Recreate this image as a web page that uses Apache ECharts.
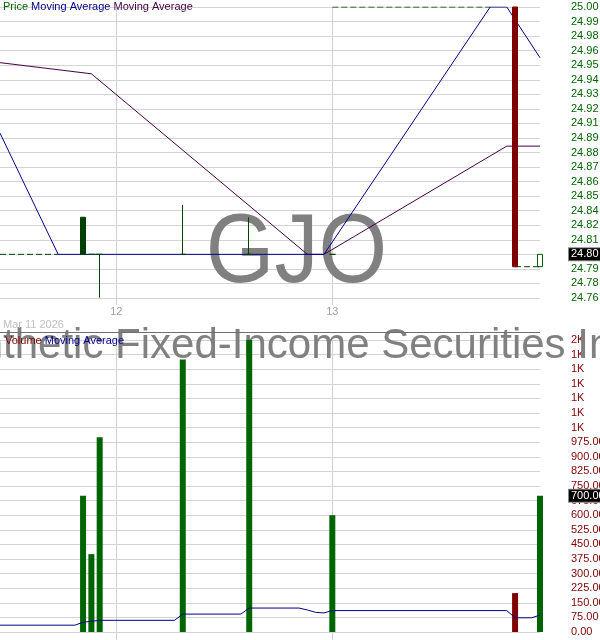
<!DOCTYPE html>
<html>
<head>
<meta charset="utf-8">
<script src="https://cdn.jsdelivr.net/npm/echarts@6/dist/echarts.min.js"></script>
<style>
html,body{margin:0;padding:0;background:#fff;}
#chart{width:600px;height:640px;}
</style>
</head>
<body>
<div id="chart"></div>
<script>
// ---- data ----
const days = ['11', '12', '13'];
const sessionTimes = ['09:30','09:45','10:00','10:15','10:30','10:45','11:00','11:15','11:30','11:45','12:00','12:15','12:30','12:45','13:00','13:15','13:30','13:45','14:00','14:15','14:30','14:45','15:00','15:15','15:30','15:45'];
const firstSlot = '11 12:30';
const dateLabel = 'Mar 11 2026';

// trades (15-minute bars)
const tradeTimes = ['11 15:00','11 15:15','11 15:30','12 11:30','12 13:30','13 09:30','13 15:00','13 15:45'];
const opens  = [24.80, 24.80, 24.80, 24.80, 24.80, 24.80, 25.00, 24.79];
const closes = [24.83, 24.80, 24.80, 24.80, 24.80, 24.80, 24.79, 24.80];
const lows   = [24.80, 24.80, 24.765, 24.80, 24.80, 24.80, 24.79, 24.79];
const highs  = [24.83, 24.80, 24.80, 24.84, 24.83, 24.80, 25.00, 24.80];
const volumes = [700, 400, 1000, 1400, 1500, 600, 200, 700];

// price moving averages
const ma1Times = ['11 12:30','11 14:15','12 15:45','13 14:15','13 14:45','13 15:45'];
const ma1Values = [24.898, 24.80, 24.80, 25.00, 25.00, 24.959];
const ma2Times = ['11 12:30','11 15:15','12 15:15','12 15:45','13 14:45','13 15:45'];
const ma2Values = [24.955, 24.946, 24.80, 24.80, 24.8875, 24.8875];

// flat (no-trade) price segments
const flatSegments = [
  { from: '11 12:30', to: '11 14:15', price: 24.80 },
  { from: '13 09:30', to: '13 14:15', price: 25.00 },
  { from: '13 15:00', to: '13 15:45', price: 24.79 }
];

// volume moving average
const vmaTimes = ['11 12:30','11 14:45','11 15:00','11 15:15','11 15:30','12 11:15','12 11:30','12 13:15','12 13:30','12 15:00','12 15:15','12 15:30','12 15:45','13 09:30','13 14:45','13 15:00','13 15:30','13 15:45'];
const vmaValues = [35, 35, 50, 55, 60, 60, 92, 92, 123, 123, 113, 101, 98, 110, 110, 73, 73, 87];

// axis tick labels (bottom to top)
const priceTicks = ['24.76','24.78','24.79','24.80','24.81','24.82','24.84','24.85','24.86','24.87','24.88','24.89','24.91','24.92','24.93','24.94','24.95','24.96','24.98','24.99','25.00'];
const volTicks = ['0.00','75.00','150.00','225.00','300.00','375.00','450.00','525.00','600.00','675.00','750.00','825.00','900.00','975.00','1K','1K','1K','1K','1K','1K','2K'];

// ---- build ----
const allSlots = [];
days.forEach(d => sessionTimes.forEach(t => allSlots.push(d + ' ' + t)));
const categories = allSlots.slice(allSlots.indexOf(firstSlot));

const priceStep = 1 / 85;
const priceMax = 25;
const priceMin = priceMax - (priceTicks.length - 1) * priceStep;
const volStep = 75;
const volMax = volStep * (volTicks.length - 1);

const FONT = 'Liberation Sans, Arial, sans-serif';
const GREEN = '#004000';
const VGREEN = '#006400';
const RED = '#800000';

const candleData = tradeTimes.map((t, i) => {
  const down = closes[i] < opens[i];
  const hollow = i === tradeTimes.length - 1;
  const c = down ? RED : GREEN;
  return {
    value: [t, opens[i], closes[i], lows[i], highs[i]],
    itemStyle: {
      color: hollow ? 'rgba(0,0,0,0)' : c,
      color0: hollow ? 'rgba(0,0,0,0)' : c,
      borderColor: hollow ? '#005a00' : c,
      borderColor0: hollow ? '#005a00' : c
    }
  };
});
const volData = tradeTimes.map((t, i) => [t, volumes[i]]);
const lastClose = closes[closes.length - 1];
const lastVol = volumes[volumes.length - 1];

const isDayStart = (idx, val) => /09:30$/.test(val);

function xAxisCfg(gridIndex, showLabel, tickLen) {
  return {
    type: 'category', gridIndex, data: categories, boundaryGap: false,
    axisLine: { show: false },
    axisTick: { show: true, interval: isDayStart, length: tickLen, lineStyle: { color: '#d0d0d0' } },
    axisLabel: { show: showLabel, interval: isDayStart, formatter: v => v.split(' ')[0], color: '#a0a0a0', fontSize: 11, fontFamily: FONT, margin: 8 },
    splitLine: { show: true, interval: isDayStart, lineStyle: { color: '#d0d0d0' } }
  };
}

const hlMarkLine = (value, text) => ({
  silent: true, symbol: 'none', lineStyle: { color: 'rgba(0,0,0,0)', width: 0 },
  label: {
    show: true, position: 'end', formatter: text, distance: 29,
    backgroundColor: '#000', color: '#fff', borderColor: '#888', borderWidth: 1,
    padding: [1, 3, 0, 2], fontSize: 11, fontFamily: FONT
  },
  emphasis: { disabled: true },
  data: [{ yAxis: value }]
});

const option = {
  animation: false,
  backgroundColor: '#fff',
  title: [
    { left: 3, top: 1, padding: 0,
      text: '{g|Price} {b|Moving Average} {p|Moving Average}',
      textStyle: { fontSize: 11, fontWeight: 'normal', fontFamily: FONT,
        rich: { g: { color: '#006400', fontSize: 11, fontFamily: FONT }, b: { color: '#00008b', fontSize: 11, fontFamily: FONT }, p: { color: '#440044', fontSize: 11, fontFamily: FONT } } } },
    { left: 3, top: 319, padding: 0, text: dateLabel,
      textStyle: { fontSize: 11, fontWeight: 'normal', color: '#c0c0c0', fontFamily: FONT } },
    { left: 5, top: 335, padding: 0, z: 10,
      text: '{r|Volume} {b|Moving Average}',
      textStyle: { fontSize: 11, fontWeight: 'normal', fontFamily: FONT,
        rich: { r: { color: '#800000', fontSize: 11, fontFamily: FONT }, b: { color: '#00008b', fontSize: 11, fontFamily: FONT } } } }
  ],
  graphic: [
    { type: 'text', x: 296.5, y: 255, scaleX: 0.9, z: 1, silent: true,
      style: { text: 'GJO', fill: '#808080', font: '98px ' + FONT, textAlign: 'center', textVerticalAlign: 'middle' } },
    { type: 'text', x: 282, y: 346, z: 1, silent: true,
      style: { text: 'Synthetic Fixed-Income Securities Inc', fill: '#808080', font: '42px ' + FONT, textAlign: 'center', textVerticalAlign: 'middle' } },
    { type: 'line', z: 5, silent: true, shape: { x1: 0, y1: 332.5, x2: 540, y2: 332.5 }, style: { stroke: '#6e6e6e', lineWidth: 1 } }
  ],
  grid: [
    { left: 0, right: 60, top: 7, height: 291, outerBoundsMode: 'none', containLabel: false },
    { left: 0, right: 60, top: 340, height: 292, outerBoundsMode: 'none', containLabel: false }
  ],
  xAxis: [ xAxisCfg(0, true, 7), xAxisCfg(1, false, 8) ],
  yAxis: [
    { type: 'value', gridIndex: 0, position: 'right', min: priceMin, max: priceMax, interval: priceStep,
      axisLine: { show: false }, axisTick: { show: false },
      splitLine: { lineStyle: { color: '#d3d3d3' } },
      axisLabel: { color: '#006400', fontSize: 11, fontFamily: FONT, margin: 31,
        formatter: v => priceTicks[Math.round((v - priceMin) / priceStep)] || '' } },
    { type: 'value', gridIndex: 1, position: 'right', min: 0, max: volMax, interval: volStep,
      axisLine: { show: false }, axisTick: { show: false },
      splitLine: { lineStyle: { color: '#d3d3d3' } },
      axisLabel: { color: '#800000', fontSize: 11, fontFamily: FONT, margin: 31,
        formatter: v => volTicks[Math.round(v / volStep)] || '' } }
  ],
  series: [
    ...flatSegments.map(s => ({
      type: 'line', xAxisIndex: 0, yAxisIndex: 0, symbol: 'none', silent: true, z: 3,
      data: [[s.from, s.price], [s.to, s.price]],
      lineStyle: { color: GREEN, width: 1, type: [6, 3] }
    })),
    { type: 'line', xAxisIndex: 0, yAxisIndex: 0, symbol: 'none', silent: true, z: 4,
      data: ma2Times.map((t, i) => [t, ma2Values[i]]),
      lineStyle: { color: '#440044', width: 1 } },
    { type: 'line', xAxisIndex: 0, yAxisIndex: 0, symbol: 'none', silent: true, z: 4,
      data: ma1Times.map((t, i) => [t, ma1Values[i]]),
      lineStyle: { color: '#00008b', width: 1 } },
    { type: 'candlestick', xAxisIndex: 0, yAxisIndex: 0, barWidth: 6, clip: false, z: 5,
      encode: { x: 0, y: [1, 2, 3, 4] },
      itemStyle: { borderWidth: 1 },
      data: candleData,
      markLine: hlMarkLine(lastClose, lastClose.toFixed(2)) },
    { type: 'custom', xAxisIndex: 1, yAxisIndex: 1, z: 3, clip: false,
      encode: { x: 0, y: 1 },
      data: volData,
      renderItem: (params, api) => {
        const base = api.coord([api.value(0), 0]);
        const top = api.coord([api.value(0), api.value(1)]);
        const i = params.dataIndex;
        return { type: 'rect',
          shape: { x: base[0] - 3, y: top[1], width: 6, height: base[1] - top[1] },
          style: { fill: closes[i] < opens[i] ? RED : VGREEN } };
      } },
    { type: 'line', xAxisIndex: 1, yAxisIndex: 1, symbol: 'none', silent: true, z: 4,
      data: vmaTimes.map((t, i) => [t, vmaValues[i]]),
      lineStyle: { color: '#00008b', width: 1 },
      markLine: hlMarkLine(lastVol, lastVol.toFixed(2)) }
  ]
};

const chart = echarts.init(document.getElementById('chart'), null, { renderer: 'canvas' });
chart.setOption(option);
</script>
</body>
</html>
